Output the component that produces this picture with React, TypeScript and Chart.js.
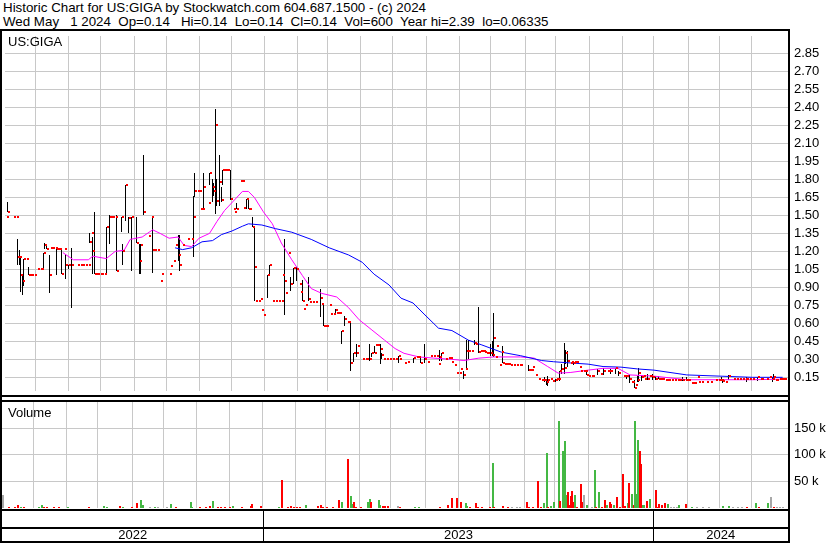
import React, { useEffect, useRef } from 'react';
import { Chart, registerables } from 'chart.js';

Chart.register(...registerables);

const FONT_FAMILY = '"Liberation Sans", Arial, Helvetica, sans-serif';

const titleLine1 = 'Historic Chart for US:GIGA by Stockwatch.com 604.687.1500 - (c) 2024';
const titleLine2 = 'Wed May   1 2024  Op=0.14   Hi=0.14  Lo=0.14  Cl=0.14  Vol=600  Year hi=2.39  lo=0.06335';
const symbolLabel = 'US:GIGA';
const volumeLabel = 'Volume';

// axis ticks
const priceTicks = [0.15, 0.3, 0.45, 0.6, 0.75, 0.9, 1.05, 1.2, 1.35, 1.5, 1.65, 1.8, 1.95, 2.1, 2.25, 2.4, 2.55, 2.7, 2.85];
const volumeTicks = [50000, 100000, 150000];
// trading-day (weekday) index of each month start, day 0 = 2 May 2022
const monthStarts = [22, 44, 65, 88, 109, 131, 153, 175, 197, 217, 239, 260, 283, 305, 326, 349, 369, 392, 414, 435, 458, 479, 500];
const yearStarts = [175, 435];
const yearLabels = ['2022', '2023', '2024'];

// days with a high-low range
const rangeDay = [
  3, 10, 11, 12, 13, 14, 17, 27, 28, 29,
  31, 36, 39, 42, 44, 46, 58, 60, 61, 69,
  71, 76, 79, 80, 82, 84, 86, 89, 91, 92,
  94, 100, 117, 118, 127, 128, 134, 138, 140, 141,
  142, 143, 145, 146, 147, 152, 156, 163, 164, 167,
  168, 177, 178, 188, 192, 194, 196, 200, 204, 212,
  214, 222, 226, 228, 232, 234, 236, 245, 246, 248,
  252, 253, 264, 274, 279, 282, 292, 293, 308, 310,
  311, 315, 318, 326, 327, 328, 334, 338, 351, 362,
  363, 364, 369, 372, 373, 375, 376, 377, 381, 390,
  397, 401, 406, 409, 411, 417, 419, 422, 424, 425,
  427, 431, 434, 436, 438, 454, 457, 480, 481, 485,
  497, 504, 514, 515,
];
const rangeHigh = [
  1.61, 1.30, 1.21, 1.15, 1.00, 1.14, 1.07, 1.19, 1.27, 1.25,
  1.17, 1.23, 1.22, 1.18, 1.09, 1.23, 1.35, 1.32, 1.53, 1.40,
  1.50, 1.50, 1.49, 1.26, 1.75, 1.49, 1.49, 1.49, 1.26, 1.26,
  2.00, 1.49, 1.34, 1.34, 1.66, 1.85, 1.85, 1.85, 1.80, 1.77,
  2.39, 1.80, 2.00, 1.74, 1.88, 1.88, 1.60, 1.64, 1.64, 1.49,
  1.40, 1.00, 1.09, 1.30, 0.99, 1.06, 1.07, 0.96, 0.99, 0.89,
  0.75, 0.72, 0.54, 0.66, 0.61, 0.35, 0.43, 0.43, 0.35, 0.41,
  0.43, 0.35, 0.33, 0.31, 0.32, 0.43, 0.38, 0.35, 0.20, 0.46,
  0.46, 0.46, 0.74, 0.43, 0.45, 0.69, 0.41, 0.27, 0.25, 0.15,
  0.14, 0.16, 0.14, 0.20, 0.26, 0.44, 0.38, 0.37, 0.29, 0.21,
  0.22, 0.23, 0.22, 0.23, 0.20, 0.17, 0.17, 0.13, 0.16, 0.23,
  0.17, 0.18, 0.18, 0.16, 0.16, 0.15, 0.15, 0.15, 0.14, 0.17,
  0.15, 0.15, 0.15, 0.18,
];
const rangeLow = [
  1.53, 1.09, 1.09, 0.86, 0.84, 0.91, 1.00, 1.05, 1.22, 1.22,
  0.85, 1.00, 1.01, 0.97, 1.05, 0.73, 1.27, 1.01, 1.01, 1.01,
  1.26, 1.04, 1.36, 1.09, 1.45, 1.35, 1.04, 1.27, 1.01, 1.01,
  1.50, 1.02, 1.12, 1.04, 1.15, 1.65, 1.55, 1.75, 1.61, 1.66,
  1.51, 1.58, 1.58, 1.61, 1.75, 1.63, 1.55, 1.55, 1.55, 1.40,
  0.79, 0.81, 1.00, 0.67, 0.87, 0.93, 0.95, 0.79, 0.79, 0.65,
  0.58, 0.68, 0.43, 0.58, 0.20, 0.28, 0.32, 0.29, 0.32, 0.35,
  0.26, 0.30, 0.27, 0.27, 0.27, 0.27, 0.29, 0.29, 0.14, 0.21,
  0.30, 0.42, 0.35, 0.33, 0.33, 0.32, 0.27, 0.25, 0.20, 0.11,
  0.09, 0.08, 0.11, 0.12, 0.18, 0.18, 0.26, 0.24, 0.25, 0.17,
  0.17, 0.17, 0.18, 0.18, 0.16, 0.14, 0.10, 0.06, 0.11, 0.11,
  0.12, 0.13, 0.13, 0.13, 0.14, 0.12, 0.12, 0.12, 0.10, 0.13,
  0.11, 0.12, 0.11, 0.14,
];
const rangeClose = [
  1.53, 1.15, 1.15, 1.00, 0.95, 1.14, 1.00, 1.19, 1.25, 1.22,
  1.00, 1.22, 1.01, 1.09, 1.09, 1.09, 1.28, 1.20, 1.01, 1.40,
  1.49, 1.04, 1.49, 1.20, 1.75, 1.48, 1.49, 1.27, 1.12, 1.25,
  1.53, 1.21, 1.17, 1.09, 1.49, 1.70, 1.74, 1.85, 1.74, 1.70,
  2.25, 1.62, 1.78, 1.63, 1.88, 1.64, 1.55, 1.64, 1.55, 1.40,
  1.07, 1.00, 1.09, 0.95, 0.93, 1.06, 1.05, 0.79, 0.80, 0.81,
  0.58, 0.71, 0.54, 0.64, 0.27, 0.35, 0.35, 0.30, 0.35, 0.35,
  0.39, 0.34, 0.33, 0.31, 0.27, 0.30, 0.32, 0.35, 0.17, 0.37,
  0.37, 0.44, 0.36, 0.35, 0.34, 0.48, 0.27, 0.26, 0.21, 0.13,
  0.11, 0.13, 0.13, 0.20, 0.22, 0.23, 0.35, 0.29, 0.27, 0.17,
  0.20, 0.20, 0.20, 0.23, 0.19, 0.16, 0.14, 0.06, 0.13, 0.19,
  0.15, 0.14, 0.15, 0.14, 0.14, 0.13, 0.13, 0.13, 0.12, 0.16,
  0.14, 0.15, 0.14, 0.15,
];

// days that traded at a single price
const dotDay = [
  2, 7, 9, 16, 18, 19, 21, 23, 25, 26,
  32, 33, 35, 37, 38, 41, 50, 52, 53, 55,
  57, 59, 62, 63, 65, 66, 68, 72, 73, 75,
  97, 99, 101, 103, 105, 106, 111, 112, 114, 115,
  120, 123, 126, 130, 131, 132, 133, 137, 148, 149,
  150, 154, 155, 159, 160, 161, 165, 169, 171, 172,
  173, 174, 180, 182, 184, 186, 187, 189, 191, 198,
  199, 201, 202, 205, 207, 209, 213, 215, 216, 218,
  219, 221, 223, 224, 225, 230, 231, 237, 240, 242,
  243, 249, 250, 254, 256, 258, 260, 262, 265, 268,
  270, 276, 278, 284, 286, 288, 290, 291, 296, 298,
  299, 300, 302, 303, 305, 306, 309, 313, 316, 319,
  320, 321, 322, 323, 324, 329, 330, 332, 333, 335,
  336, 337, 339, 341, 343, 345, 346, 352, 353, 354,
  356, 358, 360, 361, 366, 367, 370, 371, 379, 380,
  382, 383, 385, 386, 388, 389, 391, 393, 394, 399,
  404, 405, 415, 416, 420, 421, 423, 428, 429, 432,
  433, 439, 440, 441, 443, 444, 445, 447, 449, 451,
  452, 456, 458, 460, 461, 462, 464, 465, 467, 470,
  473, 476, 478, 479, 483, 488, 490, 492, 494, 496,
  499, 501, 506, 507, 510, 512, 516, 517, 519, 520,
  521, 522,
];
const dotPrice = [
  1.49, 1.49, 1.49, 1.14, 1.00, 1.00, 1.00, 1.05, 1.05, 1.05,
  1.23, 1.23, 1.23, 1.22, 1.22, 1.22, 1.09, 1.09, 1.09, 1.09,
  1.09, 1.35, 1.01, 1.01, 1.01, 1.01, 1.01, 1.49, 1.49, 1.49,
  1.33, 1.49, 1.21, 1.21, 0.95, 1.01, 1.01, 1.08, 1.12, 1.25,
  1.25, 1.30, 1.30, 1.70, 1.70, 1.55, 1.55, 1.60, 1.88, 1.88,
  1.88, 1.55, 1.53, 1.79, 1.79, 1.56, 1.55, 0.79, 0.79, 0.80,
  0.71, 0.67, 0.79, 0.79, 0.79, 0.79, 1.00, 0.85, 1.19, 0.93,
  0.86, 0.72, 0.75, 0.78, 0.78, 0.78, 0.76, 0.58, 0.58, 0.75,
  0.68, 0.68, 0.69, 0.69, 0.69, 0.61, 0.61, 0.41, 0.30, 0.30,
  0.30, 0.42, 0.42, 0.30, 0.30, 0.30, 0.30, 0.30, 0.30, 0.27,
  0.28, 0.32, 0.32, 0.28, 0.33, 0.33, 0.33, 0.26, 0.30, 0.31,
  0.31, 0.28, 0.25, 0.19, 0.19, 0.22, 0.22, 0.37, 0.43, 0.37,
  0.37, 0.37, 0.36, 0.35, 0.35, 0.32, 0.41, 0.25, 0.36, 0.26,
  0.26, 0.26, 0.25, 0.25, 0.25, 0.25, 0.25, 0.21, 0.21, 0.24,
  0.17, 0.14, 0.13, 0.13, 0.14, 0.12, 0.14, 0.14, 0.27, 0.28,
  0.28, 0.28, 0.24, 0.20, 0.20, 0.20, 0.16, 0.16, 0.16, 0.18,
  0.20, 0.20, 0.16, 0.16, 0.11, 0.11, 0.09, 0.16, 0.14, 0.16,
  0.16, 0.14, 0.14, 0.14, 0.13, 0.13, 0.13, 0.13, 0.13, 0.13,
  0.13, 0.13, 0.13, 0.10, 0.10, 0.10, 0.15, 0.11, 0.11, 0.11,
  0.11, 0.13, 0.13, 0.13, 0.11, 0.14, 0.14, 0.14, 0.14, 0.14,
  0.14, 0.14, 0.14, 0.14, 0.14, 0.15, 0.13, 0.13, 0.14, 0.14,
  0.14, 0.14,
];

// moving averages (magenta = short, blue = long)
const fastDay = [40, 47, 57, 60, 69, 75, 81, 85, 93, 100, 105, 111, 117, 121, 126, 131, 138, 143, 148, 154, 160, 164, 168, 174, 180, 186, 193, 200, 206, 213, 223, 231, 238, 246, 255, 262, 268, 278, 288, 300, 308, 318, 328, 346, 355, 364, 371, 379, 391, 401, 411, 419, 435, 457, 479, 501, 521];
const fastAvg = [1.19, 1.13, 1.13, 1.16, 1.14, 1.20, 1.21, 1.30, 1.32, 1.38, 1.35, 1.31, 1.32, 1.25, 1.24, 1.31, 1.35, 1.45, 1.54, 1.62, 1.70, 1.70, 1.65, 1.53, 1.43, 1.27, 1.13, 1.00, 0.89, 0.85, 0.82, 0.73, 0.63, 0.55, 0.46, 0.39, 0.35, 0.32, 0.31, 0.30, 0.29, 0.31, 0.32, 0.32, 0.31, 0.24, 0.185, 0.19, 0.21, 0.225, 0.225, 0.17, 0.16, 0.13, 0.13, 0.13, 0.135];
const slowDay = [115, 120, 126, 133, 140, 146, 153, 160, 164, 173, 182, 193, 206, 218, 231, 240, 248, 258, 266, 274, 282, 291, 300, 311, 320, 333, 346, 360, 368, 379, 391, 401, 413, 424, 435, 457, 479, 501, 521];
const slowAvg = [1.23, 1.215, 1.23, 1.28, 1.29, 1.34, 1.37, 1.41, 1.43, 1.42, 1.39, 1.36, 1.30, 1.23, 1.17, 1.11, 1.01, 0.92, 0.81, 0.77, 0.67, 0.56, 0.54, 0.46, 0.42, 0.36, 0.33, 0.29, 0.28, 0.27, 0.26, 0.24, 0.235, 0.22, 0.21, 0.17, 0.16, 0.15, 0.15];

// volume
const volDay = [
  2, 6, 10, 12, 14, 16, 26, 28, 29, 31,
  36, 39, 45, 59, 69, 71, 80, 82, 88, 91,
  94, 95, 100, 103, 105, 111, 114, 117, 127, 128,
  133, 137, 140, 142, 145, 147, 150, 153, 155, 161,
  167, 168, 174, 186, 188, 192, 194, 196, 198, 200,
  204, 212, 214, 215, 218, 222, 226, 228, 232, 234,
  235, 236, 237, 240, 245, 246, 247, 252, 253, 255,
  256, 258, 265, 266, 276, 279, 293, 298, 301, 304,
  307, 310, 311, 313, 317, 318, 321, 326, 328, 329,
  335, 338, 341, 344, 346, 351, 352, 355, 358, 360,
  362, 364, 365, 367, 369, 372, 373, 375, 376, 377,
  378, 379, 380, 381, 382, 383, 384, 387, 388, 389,
  391, 394, 396, 397, 399, 401, 403, 404, 406, 407,
  409, 411, 413, 415, 416, 418, 419, 421, 422, 423,
  424, 425, 426, 427, 428, 429, 431, 433, 437, 438,
  439, 441, 443, 445, 447, 449, 451, 452, 457, 461,
  464, 468, 472, 481, 485, 488, 491, 494, 497, 503,
  505, 511, 513, 515, 517, 519, 521,
];
const volShares = [
  24000, 600, 2500, 5600, 1900, 600, 1900, 5600, 600, 600,
  600, 600, 1900, 1900, 3800, 1900, 3800, 600, 600, 8800,
  15000, 5600, 600, 600, 600, 600, 7500, 600, 12000, 1900,
  600, 600, 3100, 13000, 600, 600, 600, 600, 3100, 1900,
  3100, 7500, 3800, 600, 52700, 600, 3800, 600, 600, 2500,
  5600, 3800, 5600, 600, 600, 1900, 15000, 12000, 92000, 22600,
  8000, 10700, 1900, 600, 12000, 17000, 10700, 15000, 5600, 3800,
  3800, 3800, 4000, 600, 600, 600, 1900, 5600, 18000, 18000,
  10700, 9000, 3800, 1900, 9000, 600, 600, 1900, 84000, 600,
  3800, 600, 600, 600, 600, 10700, 1900, 600, 50800, 600,
  9000, 103000, 1900, 3800, 10700, 164000, 13000, 107000, 126000, 24000,
  30700, 5600, 22600, 32000, 10700, 24000, 600, 45000, 10700, 24000,
  5600, 600, 71500, 600, 30000, 600, 15000, 5600, 10700, 7000,
  5600, 21000, 600, 64000, 3800, 9000, 47700, 25700, 5600, 164000,
  27000, 128000, 107000, 83000, 5600, 5600, 13000, 17000, 34000, 600,
  7500, 5600, 9000, 7000, 600, 600, 600, 5600, 7000, 600,
  600, 600, 600, 3800, 3800, 600, 600, 600, 600, 9000,
  600, 9000, 20700, 1900, 600, 600, 600,
];
// r = down day, g = up day, n = unchanged
const volDir = (
  'nrrrgrggrr' + 'rrgrggrgrr' + 'ggngnngrgg' + 'rrrgrrrrgr' + 'rrrgrrrrrr' +
  'grrrrrrgrg' + 'grrrggrggr' + 'rrnrggrrrr' + 'rggrrrrrgr' + 'rrnnnrrrrr' +
  'ggrgggrggg' + 'rrrrrgrrrn' + 'gngrgrrgrr' + 'grrrrgrgrg' + 'ggrrggrgrr' +
  'rrrgnnngrg' + 'nnnggnnnrg' + 'rgnrnnn'
).split('');

const X_MIN = 1.33;
const X_MAX = 524.6;
const GRID = '#c8c8c8';
const DIR_COLORS: Record<string, string> = { r: '#ff0000', g: '#44b844', n: '#a8a8a8' };

const tickFont = { family: FONT_FAMILY, size: 13 };

const xScale = () => ({
  type: 'linear' as const,
  min: X_MIN,
  max: X_MAX,
  offset: false,
  afterBuildTicks: (s: any) => {
    s.ticks = monthStarts.map((v) => ({ value: v }));
  },
  afterFit: (s: any) => {
    s.height = 0;
    s.paddingLeft = 0;
    s.paddingRight = 0;
    s.paddingTop = 0;
    s.paddingBottom = 0;
  },
  ticks: { display: false },
  grid: { color: GRID, lineWidth: 1, drawTicks: false, offset: false },
  border: { display: false },
});

const yFit = (s: any) => {
  s.width = 42;
  s.paddingTop = 0;
  s.paddingBottom = 0;
  s.paddingLeft = 0;
  s.paddingRight = 0;
};

// snap bars and close ticks to whole pixels so they render crisp
const snapPlugin = {
  id: 'snapPixels',
  afterDatasetsUpdate(chart: any) {
    chart.data.datasets.forEach((ds: any, i: number) => {
      const meta = chart.getDatasetMeta(i);
      if (meta.type === 'bar') {
        const odd = (ds.barThickness || 1) % 2 === 1;
        meta.data.forEach((el: any) => {
          el.x = odd ? Math.floor(el.x) + 0.5 : Math.round(el.x);
          el.y = Math.round(el.y);
          el.base = Math.round(el.base);
        });
      } else if (meta.type === 'scatter') {
        meta.data.forEach((el: any) => {
          el.x = Math.floor(el.x) + 2;
          el.y = Math.round(el.y);
        });
      }
    });
  },
};

const yearAxisPlugin = {
  id: 'yearAxis',
  afterDraw(chart: any) {
    const { ctx, chartArea, scales } = chart;
    const x = scales.x;
    const top = chartArea.bottom + 2;
    const bottom = chartArea.bottom + 33;
    const bounds = [chartArea.left, ...yearStarts.map((d) => Math.round(x.getPixelForValue(d)) + 0.5), chartArea.right];
    ctx.save();
    ctx.strokeStyle = '#000';
    ctx.lineWidth = 1;
    for (let i = 1; i < bounds.length - 1; i++) {
      ctx.beginPath();
      ctx.moveTo(bounds[i], top);
      ctx.lineTo(bounds[i], bottom);
      ctx.stroke();
    }
    ctx.fillStyle = '#000';
    ctx.font = `13px ${FONT_FAMILY}`;
    ctx.textAlign = 'center';
    ctx.textBaseline = 'alphabetic';
    yearLabels.forEach((label, i) => {
      const cx = (bounds[i] + bounds[i + 1]) / 2;
      ctx.fillText(label, cx, chartArea.bottom + 31);
    });
    ctx.restore();
  },
};

function Line(props: { l: number; t: number; w: number; h: number }) {
  return (
    <div style={{ position: 'absolute', left: props.l, top: props.t, width: props.w, height: props.h, background: '#000' }} />
  );
}

export default function App() {
  const priceRef = useRef<HTMLCanvasElement>(null);
  const volRef = useRef<HTMLCanvasElement>(null);

  useEffect(() => {
    const ranges = rangeDay.map((d, i) => ({ x: d, y: [rangeLow[i], rangeHigh[i]] }));
    const closes = [
      ...rangeDay.map((d, i) => ({ x: d, y: rangeClose[i] })),
      ...dotDay.map((d, i) => ({ x: d, y: dotPrice[i] })),
    ];
    const fast = fastDay.map((d, i) => ({ x: d, y: fastAvg[i] }));
    const slow = slowDay.map((d, i) => ({ x: d, y: slowAvg[i] }));

    const tick = document.createElement('canvas');
    tick.width = 2;
    tick.height = 2;
    const tctx = tick.getContext('2d');
    if (tctx) {
      tctx.fillStyle = '#ff0000';
      tctx.fillRect(0, 0, 2, 2);
    }

    const priceChart = new Chart(priceRef.current as HTMLCanvasElement, {
      type: 'bar',
      data: {
        datasets: [
          {
            type: 'bar',
            data: ranges as any,
            backgroundColor: '#000000',
            barThickness: 1,
            inflateAmount: 0,
            grouped: false,
            order: 3,
          } as any,
          {
            type: 'line',
            data: slow as any,
            borderColor: '#0000ff',
            borderWidth: 1,
            pointRadius: 0,
            tension: 0,
            order: 2,
          } as any,
          {
            type: 'line',
            data: fast as any,
            borderColor: '#ff00ff',
            borderWidth: 1,
            pointRadius: 0,
            tension: 0,
            order: 2,
          } as any,
          {
            type: 'scatter',
            data: closes as any,
            pointStyle: tick,
            pointRadius: 2,
            order: 1,
          } as any,
        ],
      },
      options: {
        animation: false,
        responsive: false,
        events: [],
        layout: { padding: { left: 2, right: 0, top: 0, bottom: 1 } },
        plugins: { legend: { display: false }, tooltip: { enabled: false } },
        scales: {
          x: xScale() as any,
          y: {
            type: 'linear',
            position: 'right',
            min: 0.036,
            max: 2.996,
            afterBuildTicks: (s: any) => {
              s.ticks = priceTicks.map((v) => ({ value: v }));
            },
            afterFit: yFit,
            ticks: {
              font: tickFont,
              color: '#000',
              padding: 6,
              callback: (v: any) => Number(v).toFixed(2),
            },
            grid: { color: GRID, lineWidth: 1, drawTicks: false },
            border: { display: false },
          },
        },
      },
      plugins: [snapPlugin],
    });

    const volChart = new Chart(volRef.current as HTMLCanvasElement, {
      type: 'bar',
      data: {
        datasets: [
          {
            data: volDay.map((d, i) => ({ x: d, y: volShares[i] })) as any,
            backgroundColor: volDir.map((c) => DIR_COLORS[c]),
            barThickness: 2,
            inflateAmount: 0,
            minBarLength: 1,
            grouped: false,
          } as any,
        ],
      },
      options: {
        animation: false,
        responsive: false,
        events: [],
        layout: { padding: { left: 2, right: 0, top: 0, bottom: 35 } },
        plugins: { legend: { display: false }, tooltip: { enabled: false } },
        scales: {
          x: xScale() as any,
          y: {
            type: 'linear',
            position: 'right',
            min: 0,
            max: 201400,
            afterBuildTicks: (s: any) => {
              s.ticks = volumeTicks.map((v) => ({ value: v }));
            },
            afterFit: yFit,
            ticks: {
              font: tickFont,
              color: '#000',
              padding: 6,
              callback: (v: any) => `${Number(v) / 1000} k`,
            },
            grid: { color: GRID, lineWidth: 1, drawTicks: false },
            border: { display: false },
          },
        },
      },
      plugins: [snapPlugin, yearAxisPlugin],
    });

    return () => {
      priceChart.destroy();
      volChart.destroy();
    };
  }, []);

  const textStyle: React.CSSProperties = {
    position: 'absolute',
    fontFamily: FONT_FAMILY,
    fontSize: 13,
    lineHeight: '14px',
    color: '#000',
    whiteSpace: 'pre',
  };

  return (
    <div style={{ position: 'absolute', left: 0, top: 0, width: 830, height: 543, background: '#fff', overflow: 'hidden' }}>
      <div style={{ ...textStyle, fontSize: 13.33, left: 3, top: 1 }}>{titleLine1}</div>
      <div style={{ ...textStyle, fontSize: 13.33, left: 3, top: 15 }}>{titleLine2}</div>
      <canvas ref={priceRef} width={830} height={365} style={{ position: 'absolute', left: 0, top: 31, width: 830, height: 365 }} />
      <canvas ref={volRef} width={830} height={142} style={{ position: 'absolute', left: 0, top: 401, width: 830, height: 142 }} />
      <div style={{ ...textStyle, left: 8, top: 35 }}>{symbolLabel}</div>
      <div style={{ ...textStyle, left: 8, top: 406 }}>{volumeLabel}</div>
      <Line l={0} t={29} w={790} h={2} />
      <Line l={0} t={29} w={2} h={514} />
      <Line l={788} t={29} w={2} h={514} />
      <Line l={0} t={395} w={790} h={2} />
      <Line l={0} t={400} w={790} h={2} />
      <Line l={0} t={509} w={790} h={2} />
      <Line l={0} t={527} w={790} h={2} />
      <Line l={0} t={541} w={790} h={2} />
    </div>
  );
}
